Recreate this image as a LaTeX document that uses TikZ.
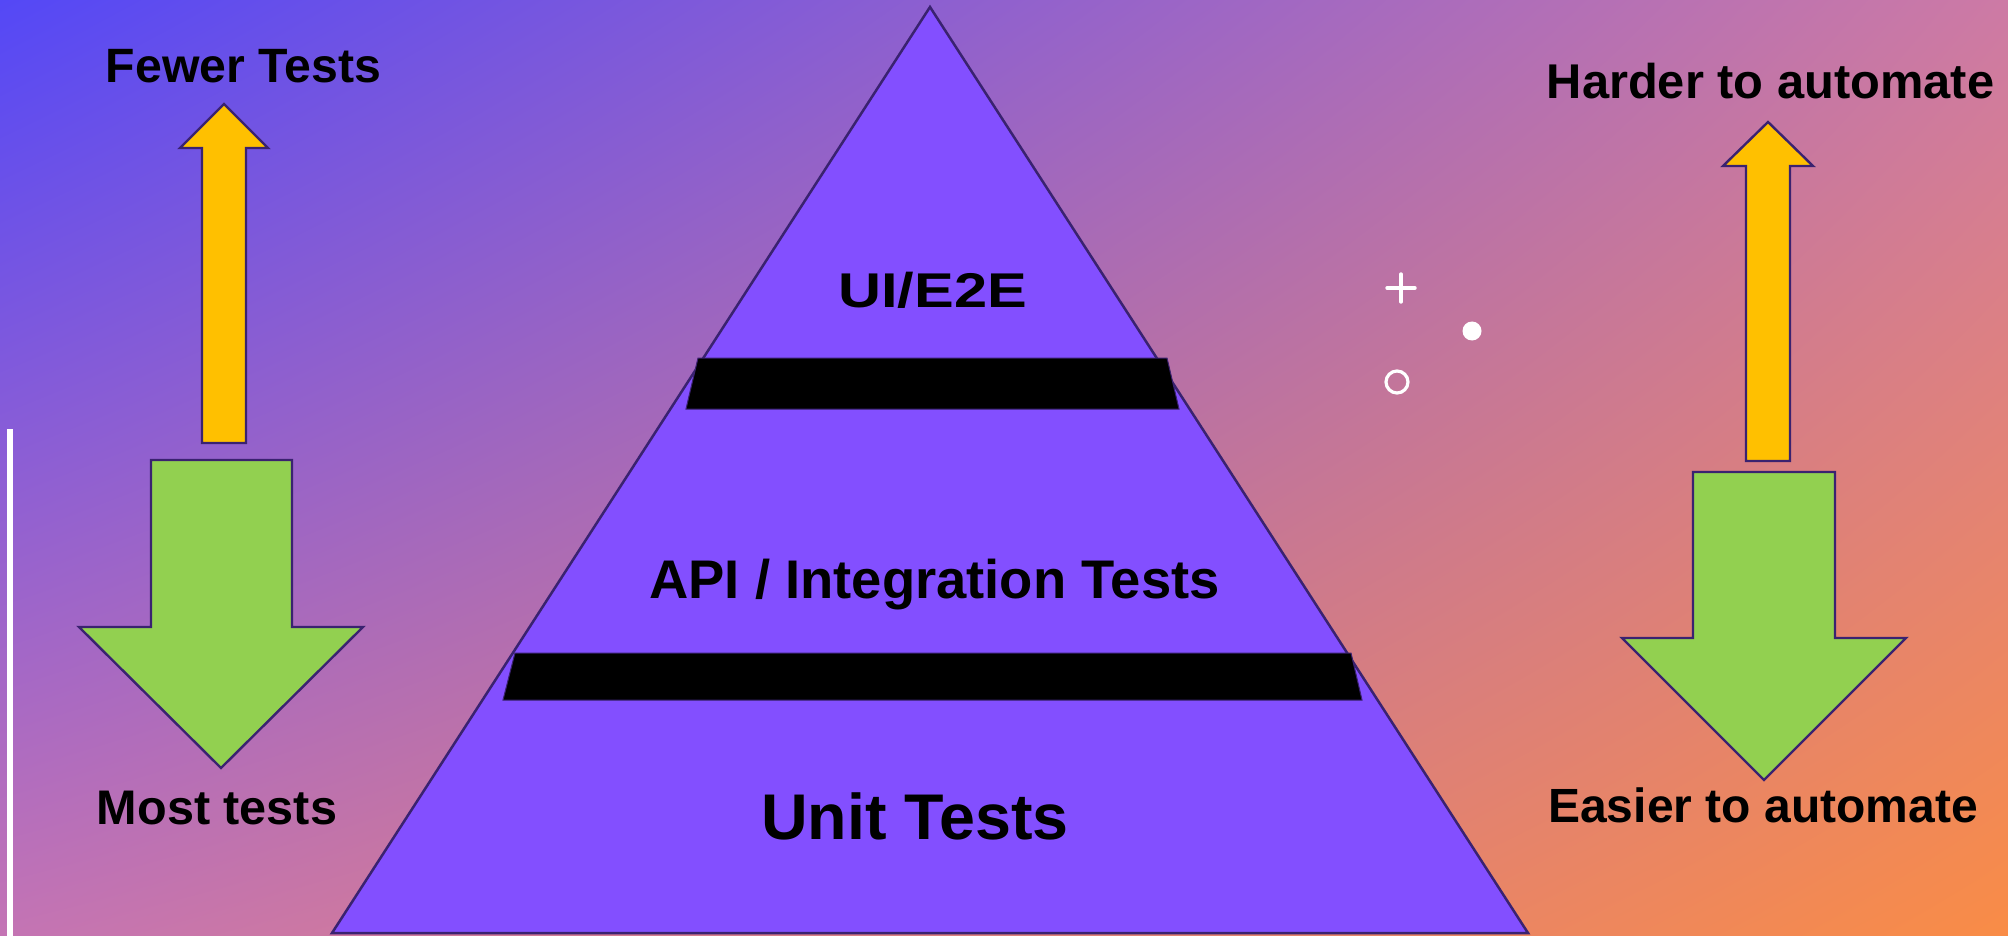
\documentclass[tikz,border=0pt]{standalone}
\usepackage{fontspec}
\setmainfont{Liberation Sans}
\usetikzlibrary{shadings}
\definecolor{bgTL}{RGB}{84,72,246}
\definecolor{bgTR}{RGB}{205,122,165}
\definecolor{bgBL}{RGB}{196,116,180}
\definecolor{bgBR}{RGB}{249,140,70}
\definecolor{pyrfill}{RGB}{131,79,255}
\definecolor{edge}{RGB}{58,34,112}
\definecolor{upfill}{RGB}{255,192,0}
\definecolor{downfill}{RGB}{146,208,80}
\tikzset{
  pyr/.style={fill=pyrfill, draw=edge, line width=1.25pt, line join=miter},
  bar/.style={fill=black, draw=edge, line width=0.5pt},
  uparrow/.style={fill=upfill, draw=edge, line width=1.2pt, line join=miter},
  downarrow/.style={fill=downfill, draw=edge, line width=1.2pt, line join=miter},
  lbl/.style={anchor=base, inner sep=0pt, text=black},
  deco/.style={draw=white, line width=1.7pt, line cap=round}
}
\newcommand{\lblfont}[1]{\fontsize{#1}{#1}\selectfont\bfseries}
\begin{document}
\begin{tikzpicture}[x=0.5pt,y=-0.5pt]
\useasboundingbox (0,0) rectangle (2008,936);
% background
\shade[upper left=bgTL, upper right=bgTR, lower left=bgBL, lower right=bgBR] (0,0) rectangle (2008,936);
% white vertical line
\coordinate (wlTop) at (10,429);
\coordinate (wlBot) at (10,936);
\draw[white, line width=2.6pt] (wlTop) -- (wlBot);
% pyramid
\draw[pyr] (930,7) -- (1528,933) -- (332,933) -- cycle;
% black bars
\draw[bar] (698,358) -- (1167,358) -- (1179,409) -- (686,409) -- cycle;
\draw[bar] (515,653) -- (1351,653) -- (1362,700) -- (503,700) -- cycle;
% left arrows
\draw[uparrow] (224,104) -- (268,148) -- (246,148) -- (246,443) -- (202,443) -- (202,148) -- (180,148) -- cycle;
\draw[downarrow] (151,460) -- (292,460) -- (292,627) -- (363,627) -- (221,768) -- (79,627) -- (151,627) -- cycle;
% right arrows
\draw[uparrow] (1768,122) -- (1813,166) -- (1790,166) -- (1790,461) -- (1746,461) -- (1746,166) -- (1723,166) -- cycle;
\draw[downarrow] (1693,472) -- (1835,472) -- (1835,638) -- (1906,638) -- (1764,780) -- (1622,638) -- (1693,638) -- cycle;
% decorations
\draw[deco] (1387,288) -- (1415,288);
\draw[deco] (1401,274) -- (1401,302);
\fill[white] (1472,331) circle (9.5);
\draw[white, line width=1.6pt] (1397,382) circle (11);
% labels
\node[lbl] (fewer) at (243.5,83) {\lblfont{24.1pt}Fewer Tests};
\node[lbl] (most) at (217,824) {\lblfont{24.3pt}Most tests};
\node[lbl] (harder) at (1770.5,99) {\lblfont{24.4pt}Harder to automate};
\node[lbl] (easier) at (1763,822) {\lblfont{24pt}Easier to automate};
\node[lbl] (ui) at (932.5,307) {\lblfont{24.4pt}\scalebox{1.22}[1]{UI/E2E}};
\node[lbl] (api) at (934.5,598) {\lblfont{27.2pt}API / Integration Tests};
\node[lbl] (unit) at (915,839) {\lblfont{32.3pt}Unit Tests};
\end{tikzpicture}
\end{document}
